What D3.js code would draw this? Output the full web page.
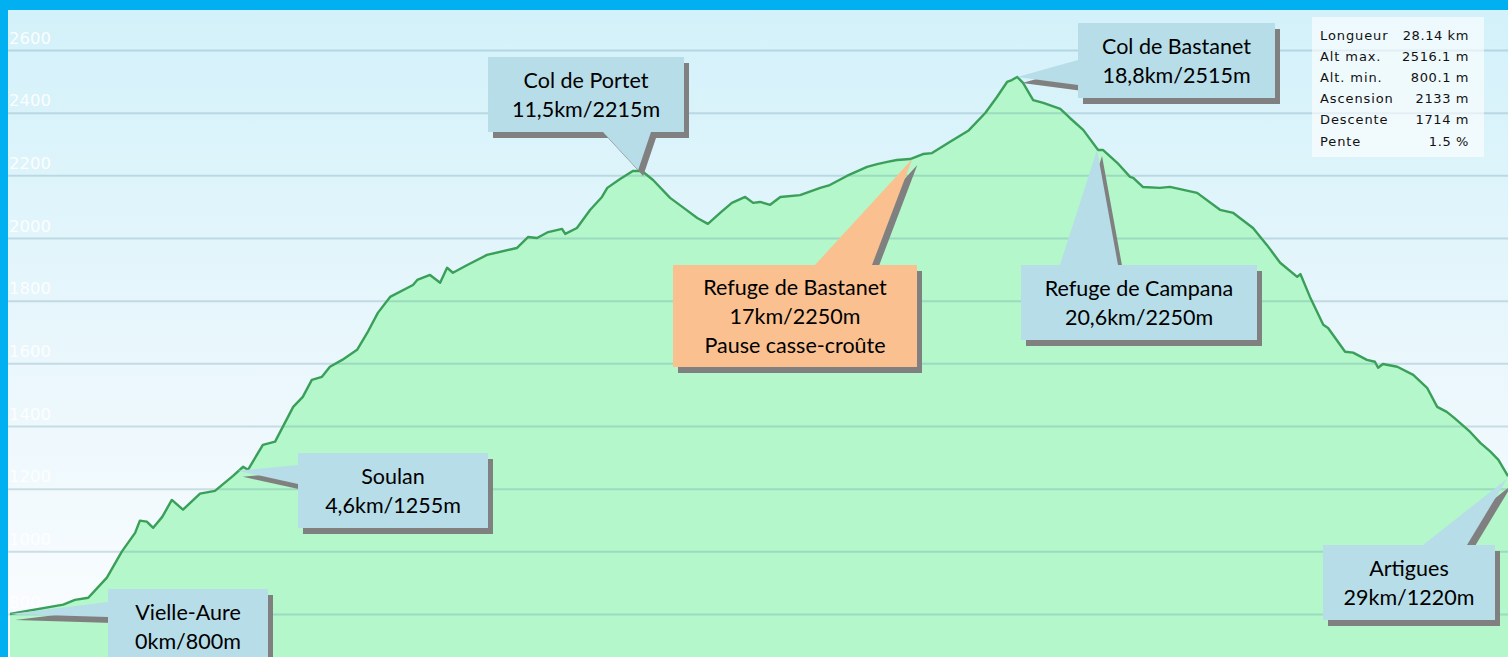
<!DOCTYPE html>
<html>
<head>
<meta charset="utf-8">
<script src="https://cdn.jsdelivr.net/npm/d3@7"></script>
<style>
  html, body { margin: 0; padding: 0; background: #00B0F0; overflow: hidden; }
  svg { display: block; }
</style>
</head>
<body>
<svg id="chart" width="1508" height="657"></svg>
<script>
// ---------- DATA ----------
const distKm = [0, 1.00, 1.22, 1.47, 1.56, 1.82, 2.10, 2.35, 2.44, 2.57, 2.69, 2.86, 3.04, 3.25, 3.57, 3.85, 4.19, 4.38, 4.47, 4.75, 4.98, 5.32, 5.50, 5.67, 5.86, 6.01, 6.24, 6.52, 6.71, 6.91, 7.14, 7.57, 7.65, 7.89, 8.08, 8.21, 8.32, 8.59, 8.96, 9.52, 9.73, 9.90, 10.11, 10.37, 10.43, 10.65, 10.90, 11.12, 11.22, 11.46, 11.70, 11.87, 12.08, 12.40, 12.68, 12.91, 13.11, 13.34, 13.56, 13.81, 13.96, 14.09, 14.28, 14.47, 14.84, 15.22, 15.40, 15.72, 16.10, 16.29, 16.48, 16.66, 16.91, 17.15, 17.32, 17.66, 18.00, 18.32, 18.54, 18.73, 18.82, 18.92, 19.03, 19.22, 19.41, 19.73, 19.91, 20.16, 20.44, 20.53, 20.80, 21.04, 21.10, 21.28, 21.60, 21.79, 22.30, 22.73, 22.98, 23.35, 23.61, 23.86, 24.18, 24.24, 24.42, 24.67, 24.76, 25.08, 25.23, 25.49, 25.64, 25.70, 25.79, 26.06, 26.36, 26.62, 26.81, 26.99, 27.13, 27.43, 27.62, 27.81, 27.96, 28.14];
const elevM = [800, 830, 845, 852, 868, 916, 999, 1059, 1098, 1095, 1075, 1110, 1164, 1133, 1184, 1193, 1241, 1270, 1260, 1340, 1350, 1461, 1493, 1547, 1557, 1589, 1611, 1643, 1697, 1761, 1812, 1850, 1866, 1882, 1857, 1905, 1889, 1914, 1946, 1968, 2003, 2000, 2019, 2029, 2013, 2032, 2090, 2131, 2160, 2188, 2214, 2214, 2185, 2128, 2093, 2064, 2045, 2080, 2112, 2131, 2112, 2115, 2106, 2131, 2137, 2160, 2169, 2198, 2227, 2236, 2243, 2249, 2252, 2268, 2271, 2307, 2342, 2399, 2450, 2498, 2504, 2514, 2495, 2440, 2431, 2412, 2383, 2345, 2281, 2281, 2240, 2195, 2192, 2163, 2160, 2163, 2144, 2090, 2080, 2032, 1978, 1921, 1876, 1885, 1812, 1723, 1713, 1637, 1634, 1611, 1605, 1586, 1598, 1589, 1563, 1522, 1461, 1445, 1426, 1381, 1346, 1318, 1292, 1240];

const yTicks = [800, 1000, 1200, 1400, 1600, 1800, 2000, 2200, 2400, 2600];

const calloutText = [
  ["Vielle-Aure", "0km/800m"],
  ["Soulan", "4,6km/1255m"],
  ["Col de Portet", "11,5km/2215m"],
  ["Refuge de Bastanet", "17km/2250m", "Pause casse-croûte"],
  ["Col de Bastanet", "18,8km/2515m"],
  ["Refuge de Campana", "20,6km/2250m"],
  ["Artigues", "29km/1220m"]
];
const calloutKm   = [0, 4.28, 11.80, 16.95, 18.92, 20.42, 28.12];
const calloutElev = [800, 1257, 2217, 2252, 2514, 2281, 1231];

const statLabels = ["Longueur", "Alt max.", "Alt. min.", "Ascension", "Descente", "Pente"];
const statValues = ["28.14 km", "2516.1 m", "800.1 m", "2133 m", "1714 m", "1.5 %"];

// ---------- LAYOUT ----------
const W = 1508, H = 657;
const plotLeft = 8, plotTop = 10;
const calloutLayout = [
  {x:108, y:589, w:160, h:75, side:"left",   b1:602, b2:617, fill:"#B7DDE8"},
  {x:298, y:453, w:190, h:75, side:"left",   b1:465, b2:484, fill:"#B7DDE8"},
  {x:488, y:57,  w:196, h:75, side:"bottom", b1:603, b2:651, fill:"#B7DDE8"},
  {x:673, y:265, w:244, h:102,side:"top",    b1:815, b2:872, fill:"#FAC090"},
  {x:1078,y:23,  w:197, h:75, side:"left",   b1:60,  b2:85,  fill:"#B7DDE8"},
  {x:1021,y:265, w:236, h:75, side:"top",    b1:1060,b2:1118,fill:"#B7DDE8"},
  {x:1323,y:545, w:172, h:75, side:"top",    b1:1423,b2:1467,fill:"#B7DDE8"}
];

const svg = d3.select("#chart");

const x = d3.scaleLinear().domain([0, 28.14]).range([10, 1508]);
const y = d3.scaleLinear().domain([800, 2600]).range([614, 50]);

const defs = svg.append("defs");
const grad = defs.append("linearGradient").attr("id", "bg").attr("x1", 0).attr("y1", 0).attr("x2", 0).attr("y2", 1);
grad.append("stop").attr("offset", "0%").attr("stop-color", "#D3F1FA");
grad.append("stop").attr("offset", "55%").attr("stop-color", "#EAF7FC");
grad.append("stop").attr("offset", "100%").attr("stop-color", "#FBFDFF");

svg.append("rect").attr("x", 0).attr("y", 0).attr("width", W).attr("height", H).attr("fill", "#00B0F0");
svg.append("rect").attr("x", plotLeft).attr("y", plotTop).attr("width", W - plotLeft).attr("height", H - plotTop).attr("fill", "url(#bg)");

const pts = distKm.map((d, i) => [d, elevM[i]]);

const area = d3.area().x(d => x(d[0])).y0(H + 5).y1(d => y(d[1]));
svg.append("path").datum(pts).attr("d", area).attr("fill", "#B3F7CB");

const axis = d3.axisRight(y).tickValues(yTicks).tickSize(W - plotLeft).tickFormat(d3.format("d"));
const gAxis = svg.append("g").attr("transform", `translate(${plotLeft},0)`).call(axis);
gAxis.select(".domain").remove();
gAxis.selectAll(".tick line").attr("stroke", "#5a8a9a").attr("stroke-opacity", 0.26).attr("stroke-width", 2);
gAxis.selectAll(".tick text")
  .attr("x", 1).attr("dy", "-7px").attr("text-anchor", "start")
  .attr("fill", "#ffffff").attr("fill-opacity", 0.92)
  .style("font-family", "'DejaVu Sans', sans-serif").style("font-size", "16.5px")
  .attr("y", 0);

const line = d3.line().x(d => x(d[0])).y(d => y(d[1]));
svg.append("path").datum(pts).attr("d", line).attr("fill", "none")
  .attr("stroke", "#3A9F59").attr("stroke-width", 2.4).attr("stroke-linejoin", "round");

const sb = svg.append("g");
sb.append("rect").attr("x", 1312).attr("y", 17).attr("width", 172).attr("height", 140)
  .attr("fill", "#ffffff").attr("fill-opacity", 0.6);
statLabels.forEach((s, i) => {
  const yy = 39.5 + i * 21.2;
  sb.append("text").attr("x", 1320).attr("y", yy).text(s)
    .style("font-family", "'DejaVu Sans', sans-serif").style("font-size", "13px")
    .style("letter-spacing", "0.9px").attr("fill", "#111");
  sb.append("text").attr("x", 1469).attr("y", yy).attr("text-anchor", "end").text(statValues[i])
    .style("font-family", "'DejaVu Sans', sans-serif").style("font-size", "13px")
    .style("letter-spacing", "0.6px").attr("fill", "#111");
});

function shape(L, ax, ay) {
  const {x: bx, y: by, w, h, side, b1, b2} = L;
  let p;
  if (side === "left") {
    p = [[bx, by], [bx + w, by], [bx + w, by + h], [bx, by + h], [bx, b2], [ax, ay], [bx, b1]];
  } else if (side === "top") {
    p = [[bx, by], [b1, by], [ax, ay], [b2, by], [bx + w, by], [bx + w, by + h], [bx, by + h]];
  } else {
    p = [[bx, by], [bx + w, by], [bx + w, by + h], [b2, by + h], [ax, ay], [b1, by + h], [bx, by + h]];
  }
  return "M" + p.map(q => q.join(",")).join("L") + "Z";
}

calloutText.forEach((lines, i) => {
  const L = calloutLayout[i];
  const ax = x(calloutKm[i]), ay = y(calloutElev[i]);
  const g = svg.append("g");
  g.append("path").attr("d", shape(L, ax, ay)).attr("fill", "#808080")
    .attr("transform", "translate(5,6)");
  g.append("path").attr("d", shape(L, ax, ay)).attr("fill", L.fill);
  const cy = L.y + L.h / 2;
  lines.forEach((t, j) => {
    g.append("text")
      .attr("x", L.x + L.w / 2)
      .attr("y", cy - (lines.length - 1) / 2 * 29 + j * 29 + 8)
      .attr("text-anchor", "middle")
      .style("font-family", "Lato, 'Open Sans', sans-serif")
      .style("font-size", "21.5px")
      .attr("fill", "#000")
      .text(t);
  });
});
</script>
</body>
</html>
